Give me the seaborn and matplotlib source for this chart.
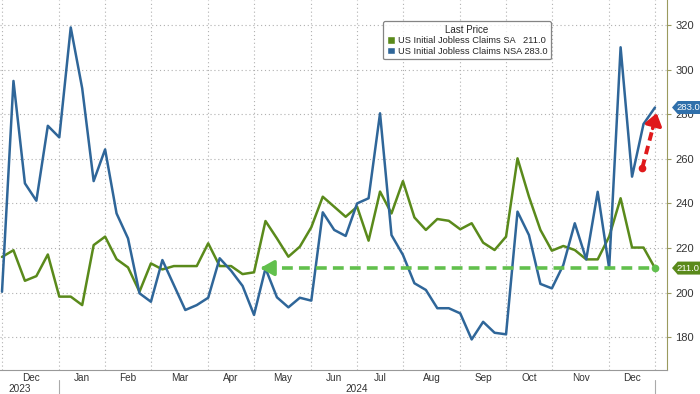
import numpy as np
import pandas as pd
import matplotlib.pyplot as plt
from matplotlib.patches import Patch, Polygon
import seaborn as sns

# weekly initial jobless claims (thousands), first point = week at the "Dec 2023" gridline
sa = [216, 219, 205.3, 207.4, 217.1, 198.2, 198.2, 194.4, 221.3, 225.1,
      215, 211.3, 200.4, 213.1, 210.4, 211.9, 211.9, 211.9, 222.1, 211.9,
      211.9, 208.3, 209.1, 232.1, 224.3, 216.1, 220.6, 229.3, 243.0, 238.5,
      234.0, 238.5, 223.3, 245.3, 235.5, 250.0, 233.7, 228.1, 233.0, 232.2,
      228.4, 231.1, 222.4, 219.1, 225.1, 260.2, 243.0, 228.1, 218.8, 220.9,
      219.1, 214.9, 214.9, 225.1, 242.3, 220.2, 220.2, 211.0]
nsa = [200.4, 294.9, 249.0, 241.2, 274.8, 269.6, 318.9, 291.6, 250.0, 264.2,
       235.5, 224.3, 199.7, 195.9, 214.6, 203.4, 192.2, 194.4, 197.7, 215.4,
       209.8, 203.0, 190.0, 210.9, 197.9, 193.4, 197.7, 196.4, 236.0, 228.1,
       225.4, 240.0, 242.3, 280.4, 225.8, 216.9, 204.2, 201.2, 193.0, 193.0,
       190.7, 179.0, 186.9, 182.0, 181.3, 236.3, 225.8, 203.9, 201.9, 212.4,
       231.1, 214.9, 245.2, 210.9, 310.0, 252.0, 275.6, 283.0]

# first week of each month (gridlines) and month names between them
month_ticks = [0, 5, 9, 13, 18, 22, 27, 31, 35, 40, 44, 48, 53, 57]
month_labels = ["Dec", "Jan", "Feb", "Mar", "Apr", "May", "Jun",
                "Jul", "Aug", "Sep", "Oct", "Nov", "Dec"]
year_labels = ["2023", "2024"]
y_ticks = [180, 200, 220, 240, 260, 280, 300, 320]

SA_NAME = "US Initial Jobless Claims SA"
NSA_NAME = "US Initial Jobless Claims NSA"
GREEN = "#5a8a1b"
BLUE = "#2f6699"
DASH_GREEN = "#62c04d"
DASH_RED = "#e0191b"
AXIS_OLIVE = "#9a9a5e"

RED_ARROW = ((55.9, 256.0), (57.15, 280.5))

week = np.arange(len(sa))
df = pd.concat([
    pd.DataFrame({"week": week, "claims": sa, "series": "SA"}),
    pd.DataFrame({"week": week, "claims": nsa, "series": "NSA"}),
])

sns.set_style("white")
plt.rcParams["font.family"] = ["Liberation Sans", "DejaVu Sans"]

fig = plt.figure(figsize=(7, 3.94), dpi=100)
ax_h = 370 / 394
ax = fig.add_axes([0, 1 - ax_h, 667 / 700, ax_h])

sns.lineplot(data=df, x="week", y="claims", hue="series", hue_order=["SA", "NSA"],
             palette={"SA": GREEN, "NSA": BLUE}, lw=1.8, legend=False, ax=ax, zorder=3)
ax.set(xlabel=None, ylabel=None)
ax.set_xlim(-0.175, 58.05)
ax.set_ylim(165.3, 331.2)

# grid / axes
ax.set_xticks(month_ticks)
ax.set_xticklabels([])
centers = [(a + b) / 2 for a, b in zip(month_ticks[:-1], month_ticks[1:])]
ax.set_xticks(centers, minor=True)
ax.set_xticklabels(month_labels, minor=True)
ax.tick_params(axis="x", which="minor", length=0, labelsize=7.2, pad=2.5, labelcolor="#333333")
ax.tick_params(axis="x", which="major", direction="inout", length=4, color="#888888")
ax.set_yticks(y_ticks)
ax.yaxis.tick_right()
ax.tick_params(axis="y", direction="out", length=3, color=AXIS_OLIVE,
               labelsize=8, pad=3, labelcolor="#333333")
ax.grid(True, which="major", color="#b0b0b0", linestyle=(0, (1, 2.5)), lw=0.8)
for s in ["top", "left"]:
    ax.spines[s].set_visible(False)
ax.spines["right"].set_color(AXIS_OLIVE)
ax.spines["bottom"].set_color("#999999")

# year labels and separators below months
xt = ax.get_xaxis_transform()
ax.text(1.5, -0.05, year_labels[0], transform=xt, ha="center", va="center",
        fontsize=7.2, color="#333333")
ax.text((month_ticks[1] + month_ticks[-1]) / 2, -0.05, year_labels[1], transform=xt,
        ha="center", va="center", fontsize=7.2, color="#333333")
for xv in [month_ticks[1], month_ticks[-1]]:
    ax.plot([xv, xv], [-0.027, -0.07], transform=xt, color="#aaaaaa", lw=0.8, clip_on=False)

# green dashed arrow: SA back to lowest since May
prev_low = max(i for i in range(len(sa) - 1) if sa[i] <= sa[-1])
ax.plot([prev_low + 1.0, week[-1]], [sa[-1], sa[-1]], color=DASH_GREEN, lw=2.6,
        dashes=(3, 1.7), zorder=4)
ax.annotate("", xy=(prev_low + 0.3, sa[-1]), xytext=(prev_low + 1.3, sa[-1]),
            arrowprops=dict(arrowstyle="-|>,head_width=0.45,head_length=0.8",
                            color=DASH_GREEN, lw=2.6), zorder=4)
ax.plot(week[-1], sa[-1], "o", color=DASH_GREEN, ms=4.5, zorder=4)

# red dashed arrow on NSA
(x0, y0), (x1, y1) = RED_ARROW
xm, ym = x0 + (x1 - x0) * 0.72, y0 + (y1 - y0) * 0.72
ax.plot([x0, xm], [y0, ym], color=DASH_RED, lw=2.8, dashes=(2.2, 1.4), zorder=4)
ax.annotate("", xy=(x1, y1), xytext=(xm, ym),
            arrowprops=dict(arrowstyle="-|>,head_width=0.5,head_length=0.7",
                            color=DASH_RED, lw=2.6, shrinkA=0, shrinkB=0), zorder=4)
ax.plot(x0, y0, "o", color=DASH_RED, ms=4.5, zorder=4)

# last-value tags on the right axis
yt = ax.get_yaxis_transform()
units_per_px = (331.2 - 165.3) / 370
half = 6.5 * units_per_px


def draw_tag(val, color):
    pts = [(1.0075, val), (1.016, val + half), (1.06, val + half),
           (1.06, val - half), (1.016, val - half)]
    ax.add_patch(Polygon(pts, closed=True, transform=yt, facecolor=color,
                         edgecolor="none", clip_on=False, zorder=6))
    ax.text(1.032, val, f"{val:.1f}", transform=yt, ha="center", va="center",
            fontsize=6.8, color="white", zorder=7, clip_on=False)


draw_tag(nsa[-1], "#3070ab")
draw_tag(sa[-1], GREEN)

# legend
handles = [Patch(facecolor=GREEN), Patch(facecolor=BLUE)]
labels = [f"{SA_NAME}   {sa[-1]:.1f}", f"{NSA_NAME} {nsa[-1]:.1f}"]
leg = ax.legend(handles, labels, title="Last Price", loc="upper left",
                bbox_to_anchor=(383 / 667, 1 - 21 / 370), borderaxespad=0,
                fontsize=6.7, title_fontsize=7, frameon=True, fancybox=True,
                handlelength=0.9, handleheight=0.9, handletextpad=0.3,
                borderpad=0.4, labelspacing=0.15)
leg.get_frame().set_edgecolor("#666666")
leg.get_frame().set_linewidth(0.9)
leg.set_zorder(8)

fig.savefig("out.png", dpi=100)
